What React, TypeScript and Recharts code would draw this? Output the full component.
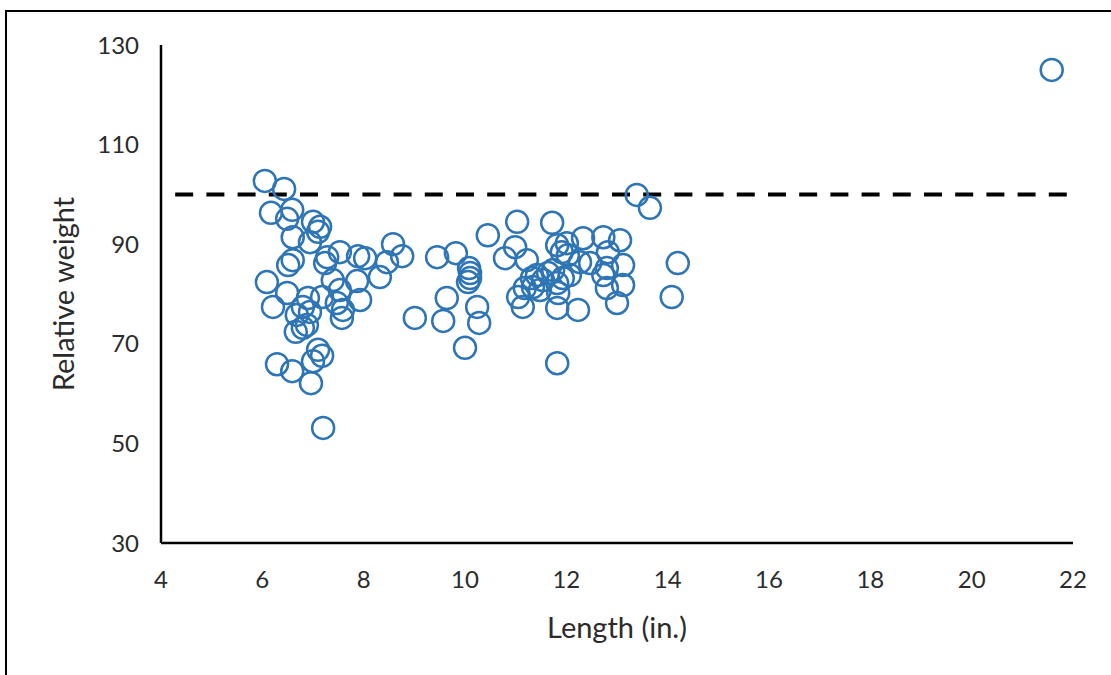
import React from 'react';
import { ScatterChart, Scatter, XAxis, YAxis, ReferenceLine } from 'recharts';

const lengths: number[] = [
  6.05, 6.43, 6.17, 6.59, 6.49, 7.0, 7.14, 7.1, 6.6, 6.94,
  6.6, 6.51, 7.28, 7.53, 7.24, 7.89, 8.03, 8.58, 8.76, 8.46,
  8.32, 7.39, 7.87, 6.09, 6.49, 6.9, 7.18, 7.53, 7.93, 6.21,
  6.8, 6.94, 7.47, 7.59, 7.57, 6.68, 6.88, 6.8, 6.66, 7.1,
  7.18, 7.0, 6.29, 6.59, 6.96, 7.2,
  9.01, 9.45, 9.82, 9.64, 9.57, 10.08, 10.1, 10.1, 10.06, 10.45,
  10.24, 10.28, 10.0, 10.79,
  11.03, 11.72, 10.99, 11.22, 11.82, 12.01, 12.33, 12.73, 13.06, 12.82,
  12.03, 11.91, 12.47, 12.27, 12.07, 13.12, 12.8, 12.73, 13.12, 12.8,
  13.0, 14.2, 14.08, 12.23, 11.82, 11.14, 11.05, 11.42, 11.54, 11.64,
  11.34, 11.48, 11.82, 11.84, 11.74, 11.93, 11.82, 13.39, 13.65, 11.18,
  11.32,
  21.58,
];

const weights: number[] = [
  102.7, 101.1, 96.3, 96.9, 95.1, 94.5, 93.5, 92.5, 91.4, 90.4,
  86.8, 85.8, 87.4, 88.4, 86.2, 87.6, 87.2, 90.0, 87.6, 86.4,
  83.4, 82.8, 82.6, 82.4, 80.2, 79.2, 79.4, 80.8, 78.8, 77.4,
  77.4, 76.4, 78.2, 76.8, 75.2, 75.8, 73.8, 73.2, 72.4, 68.8,
  67.6, 66.5, 65.9, 64.5, 62.1, 53.1,
  75.2, 87.4, 88.2, 79.2, 74.6, 85.2, 84.2, 83.2, 82.4, 91.8,
  77.4, 74.2, 69.2, 87.2,
  94.5, 94.3, 89.4, 86.8, 89.8, 90.2, 91.2, 91.4, 90.8, 88.4,
  87.8, 88.4, 86.2, 86.4, 83.8, 85.8, 85.2, 83.8, 81.8, 81.2,
  78.2, 86.2, 79.4, 76.8, 77.2, 77.4, 79.4, 83.8, 82.8, 84.2,
  81.4, 80.8, 82.2, 80.2, 84.8, 83.2, 66.1, 99.9, 97.3, 81.2,
  83.2,
  125.0,
];

const xTicks: number[] = [4, 6, 8, 10, 12, 14, 16, 18, 20, 22];
const yTicks: number[] = [30, 50, 70, 90, 110, 130];
const refWeight = 100;
const refLineStart = 4.28;
const refLineEnd = 21.88;
const xTitle = 'Length (in.)';
const yTitle = 'Relative weight';

const data = lengths.map((x, i) => ({ x, y: weights[i] }));

const FONT = 'Lato, "Open Sans", sans-serif';
const BLUE = '#2E75B6';
const TEXT = '#2b2b2b';

const Ring = (props: any) => {
  const { cx, cy } = props;
  if (cx == null || cy == null) return null;
  return <circle cx={cx} cy={cy} r={11} fill="none" stroke={BLUE} strokeWidth={2.5} />;
};

export default function App() {
  return (
    <div style={{ position: 'absolute', left: 0, top: 0, width: 1111, height: 675, background: '#fff', overflow: 'hidden' }}>
      <div
        style={{
          position: 'absolute',
          left: 5,
          top: 10,
          width: 1200,
          height: 700,
          borderTop: '2px solid #000',
          borderLeft: '2px solid #000',
          boxSizing: 'border-box',
        }}
      />
      <div style={{ position: 'absolute', left: 0, top: 0 }}>
        <ScatterChart width={1111} height={675} margin={{ top: 45, right: 38, bottom: 102, left: 61 }}>
          <XAxis
            type="number"
            dataKey="x"
            domain={[4, 22]}
            ticks={xTicks}
            interval={0}
            allowDataOverflow
            height={30}
            tickLine={false}
            tickSize={0}
            tickMargin={28}
            axisLine={{ stroke: '#000', strokeWidth: 2.5 }}
            tick={{ fill: TEXT, fontSize: 24, fontFamily: FONT }}
            label={{ value: xTitle, position: 'bottom', offset: 44, style: { fill: TEXT, fontSize: 29, fontFamily: FONT } }}
          />
          <YAxis
            type="number"
            dataKey="y"
            domain={[30, 130]}
            ticks={yTicks}
            interval={0}
            allowDataOverflow
            width={100}
            tickLine={false}
            tickSize={0}
            tickMargin={22}
            axisLine={{ stroke: '#000', strokeWidth: 2.5 }}
            tick={{ fill: TEXT, fontSize: 24, fontFamily: FONT }}
            label={{ value: yTitle, angle: -90, position: 'insideLeft', offset: 3, style: { textAnchor: 'middle', fill: TEXT, fontSize: 29, fontFamily: FONT } }}
          />
          <ReferenceLine
            segment={[{ x: refLineStart, y: refWeight }, { x: refLineEnd, y: refWeight }]}
            stroke="#000"
            strokeWidth={4}
            strokeDasharray="18 13.2"
          />
          <Scatter data={data} shape={<Ring />} isAnimationActive={false} />
        </ScatterChart>
      </div>
    </div>
  );
}
